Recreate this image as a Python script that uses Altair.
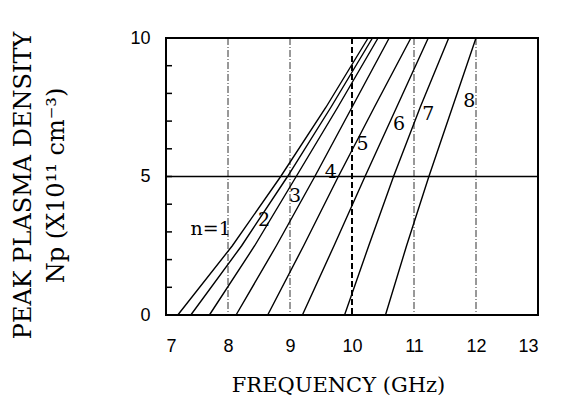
import altair as alt
import pandas as pd

# density levels (x10^11 cm^-3) at which each curve's frequency was read
N_LEVELS = [0, 2.5, 5, 7.5, 10]
# frequency (GHz) of each mode n at those densities
F_N1 = [7.19, 8.07, 8.85, 9.58, 10.26]
F_N2 = [7.40, 8.22, 8.96, 9.66, 10.33]
F_N3 = [7.70, 8.43, 9.10, 9.77, 10.42]
F_N4 = [8.13, 8.78, 9.40, 10.00, 10.60]
F_N5 = [8.64, 9.22, 9.78, 10.36, 10.95]
F_N6 = [9.20, 9.71, 10.21, 10.72, 11.23]
F_N7 = [9.88, 10.27, 10.67, 11.10, 11.56]
F_N8 = [10.54, 10.88, 11.24, 11.62, 12.00]
SERIES = [F_N1, F_N2, F_N3, F_N4, F_N5, F_N6, F_N7, F_N8]

LABELS = ["n=1", "2", "3", "4", "5", "6", "7", "8"]
LABEL_X = [7.72, 8.58, 9.08, 9.66, 10.17, 10.76, 11.23, 11.89]
LABEL_Y = [3.1, 3.43, 4.3, 5.15, 6.17, 6.88, 7.26, 7.73]

GRID_X = [8, 9, 11, 12]
GRID_X_BOLD = [10]
HLINE_Y = [5]
Y_MINOR = [1, 2, 3, 4, 5, 6, 7, 8, 9]
X_TICKS = [7, 8, 9, 10, 11, 12, 13]
Y_TICKS = [0, 5, 10]

rows = []
for i, ser in enumerate(SERIES):
    for n, f in zip(N_LEVELS, ser):
        rows.append({"mode": i + 1, "freq": f, "np": n})
curves = pd.DataFrame(rows)

W, H = 372, 277
xs = alt.Scale(domain=[7, 13], nice=False, zero=False)
ys = alt.Scale(domain=[0, 10], nice=False)

serif = "DejaVu Serif"
sans = "Liberation Sans"

base_x = alt.X(
    "freq:Q", scale=xs,
    axis=alt.Axis(values=X_TICKS, format="d", ticks=False, domain=False, grid=False,
                  labelFont=sans, labelFontSize=18, labelColor="black",
                  labelPadding=22, title="FREQUENCY (GHz)", titleFont=serif,
                  titleFontSize=21, titleFontWeight="normal", titleColor="black",
                  titlePadding=19, titleX=172, titleAlign="center"),
)
base_y = alt.Y(
    "np:Q", scale=ys,
    axis=alt.Axis(values=Y_TICKS, format="d", ticks=False, domain=False, grid=False,
                  labelFont=sans, labelFontSize=18, labelColor="black",
                  labelPadding=16,
                  title=["PEAK PLASMA DENSITY", "Np (X10¹¹ cm⁻³)"],
                  titleFont=serif, titleFontSize=24, titleFontWeight="normal",
                  titleColor="black", titleAngle=-90, titleAlign="center",
                  titleBaseline="top", titleLineHeight=33,
                  titleX=-155, titleY=147),
)

lines = alt.Chart(curves).mark_line(color="black", strokeWidth=1.4).encode(
    x=base_x, y=base_y, detail="mode:N", order="np:Q"
)

grid = alt.Chart(pd.DataFrame({"freq": GRID_X})).mark_rule(
    color="#333", strokeWidth=1, strokeDash=[7, 2, 1, 2]
).encode(x=alt.X("freq:Q", scale=xs))

grid10 = alt.Chart(pd.DataFrame({"freq": GRID_X_BOLD})).mark_rule(
    color="black", strokeWidth=2, strokeDash=[6, 3]
).encode(x=alt.X("freq:Q", scale=xs))

hline = alt.Chart(pd.DataFrame({"np": HLINE_Y})).mark_rule(
    color="black", strokeWidth=1.5
).encode(y=alt.Y("np:Q", scale=ys))

minor = alt.Chart(pd.DataFrame({"np": Y_MINOR})).mark_rule(
    color="black", strokeWidth=1.5
).encode(y=alt.Y("np:Q", scale=ys), x=alt.value(0), x2=alt.value(6))

frame = alt.Chart(pd.DataFrame({"k": [0]})).mark_rect(
    fill=None, stroke="black", strokeWidth=2
).encode(x=alt.value(0), x2=alt.value(W), y=alt.value(0), y2=alt.value(H))

labels = alt.Chart(pd.DataFrame({"freq": LABEL_X, "np": LABEL_Y, "t": LABELS})).mark_text(
    font=serif, fontSize=19, color="black"
).encode(x=alt.X("freq:Q", scale=xs), y=alt.Y("np:Q", scale=ys), text="t:N")

chart = alt.layer(grid, grid10, hline, minor, lines, labels, frame).properties(
    width=W, height=H,
    autosize="none",
    padding={"left": 158, "top": 30, "right": 15, "bottom": 80},
).configure_view(strokeWidth=0).configure(background="white")

chart.save("out.html", embed_options={"renderer": "svg", "actions": False})
